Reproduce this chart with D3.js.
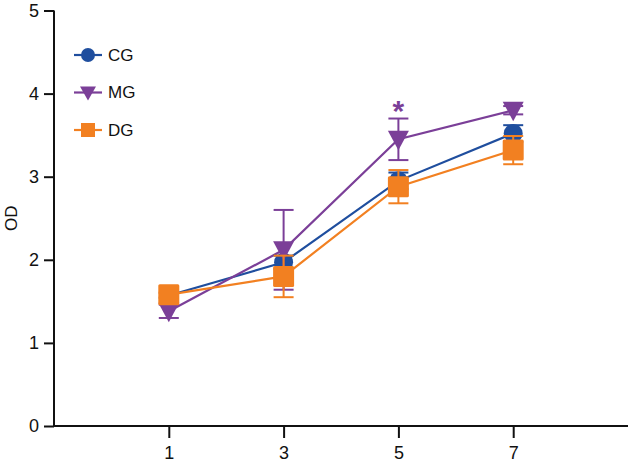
<!DOCTYPE html>
<html><head><meta charset="utf-8">
<script src="https://cdn.jsdelivr.net/npm/d3@7"></script>
<style>body{margin:0;background:#fff}svg{display:block}text{font-family:"Liberation Sans",Arial,sans-serif}</style>
</head><body><svg id="c" width="632" height="464"></svg>
<script>
const days = [1, 3, 5, 7];
const cgMean = [1.57, 1.97, 2.95, 3.52];
const cgErr  = [0.03, 0.08, 0.10, 0.10];
const mgMean = [1.38, 2.12, 3.45, 3.80];
const mgErr  = [0.08, 0.48, 0.25, 0.05];
const dgMean = [1.58, 1.80, 2.88, 3.32];
const dgErr  = [0.03, 0.25, 0.20, 0.17];
const yTicks = [0, 1, 2, 3, 4, 5];
const xTicks = [1, 3, 5, 7];
const seriesNames = ["CG", "MG", "DG"];
const sigLabel = {day: 5, text: "*"};

const series = [
  {name: seriesNames[0], mean: cgMean, err: cgErr, color: "#1f4e9e", shape: "circle"},
  {name: seriesNames[1], mean: mgMean, err: mgErr, color: "#7b3f98", shape: "tri"},
  {name: seriesNames[2], mean: dgMean, err: dgErr, color: "#f28021", shape: "square"}
];

const svg = d3.select("#c");
const x = d3.scaleLinear().domain([-1, 9]).range([54, 628]);
const y = d3.scaleLinear().domain([0, 5]).range([426, 10.5]);

function marker(g, shape, color, cx, cy) {
  if (shape === "circle") g.append("circle").attr("cx", cx).attr("cy", cy).attr("r", 9.5).attr("fill", color);
  else if (shape === "tri") g.append("path").attr("d", `M${cx-10.5},${cy-8.5}L${cx+10.5},${cy-8.5}L${cx},${cy+11}Z`).attr("fill", color);
  else g.append("rect").attr("x", cx-10.5).attr("y", cy-10.5).attr("width", 21).attr("height", 21).attr("rx", 1.5).attr("fill", color);
}

// axes
const yAxis = svg.append("g").attr("transform", `translate(${x(-1)},0)`)
  .call(d3.axisLeft(y).tickValues(yTicks).tickSize(10).tickPadding(5).tickFormat(d3.format("d")));
const xAxis = svg.append("g").attr("transform", `translate(0,${y(0)})`)
  .call(d3.axisBottom(x).tickValues(xTicks).tickSize(12).tickPadding(8).tickFormat(d3.format("d")));
[yAxis, xAxis].forEach(a => {
  a.select(".domain").attr("stroke", "#111").attr("stroke-width", 2);
  a.selectAll(".tick line").attr("stroke", "#111").attr("stroke-width", 2);
  a.selectAll(".tick text").attr("font-size", 18).attr("fill", "#111");
});
xAxis.select(".domain").attr("d", `M${x(-1)},0H${x(9)}`);
yAxis.select(".domain").attr("d", `M0,${y(5)}V${y(0)}`);

svg.append("text").attr("transform", `translate(17,${y(2.5)}) rotate(-90)`)
  .attr("text-anchor", "middle").attr("font-size", 17).attr("fill", "#111").text("OD");

// lines
const line = d3.line().x(d => x(d[0])).y(d => y(d[1]));
series.forEach(s => {
  svg.append("path").datum(days.map((d, i) => [d, s.mean[i]]))
    .attr("d", line).attr("fill", "none").attr("stroke", s.color).attr("stroke-width", 2.2);
});
// error bars + markers
series.forEach(s => {
  const g = svg.append("g");
  days.forEach((d, i) => {
    const cx = x(d), lo = y(s.mean[i] - s.err[i]), hi = y(s.mean[i] + s.err[i]);
    g.append("line").attr("x1", cx).attr("x2", cx).attr("y1", lo).attr("y2", hi).attr("stroke", s.color).attr("stroke-width", 2);
    [lo, hi].forEach(v => g.append("line").attr("x1", cx-10).attr("x2", cx+10).attr("y1", v).attr("y2", v).attr("stroke", s.color).attr("stroke-width", 2));
  });
  days.forEach((d, i) => marker(g, s.shape, s.color, x(d), y(s.mean[i])));
});

// significance
const mi = days.indexOf(sigLabel.day);
svg.append("text").attr("x", x(sigLabel.day)).attr("y", y(mgMean[mi] + mgErr[mi]))
  .attr("dy", 2).attr("text-anchor", "middle").attr("font-size", 30).attr("font-weight", "bold").attr("fill", "#7b3f98").text(sigLabel.text);

// legend
series.forEach((s, i) => {
  const ly = 55 + i * 37.5;
  const g = svg.append("g");
  g.append("line").attr("x1", 74).attr("x2", 102).attr("y1", ly).attr("y2", ly).attr("stroke", s.color).attr("stroke-width", 2.2);
  if (s.shape === "circle") g.append("circle").attr("cx", 88).attr("cy", ly).attr("r", 7).attr("fill", s.color);
  else if (s.shape === "tri") g.append("path").attr("d", `M${80},${ly-6}L${96},${ly-6}L${88},${ly+8}Z`).attr("fill", s.color);
  else g.append("rect").attr("x", 81).attr("y", ly-7).attr("width", 14).attr("height", 14).attr("fill", s.color);
  g.append("text").attr("x", 108).attr("y", ly).attr("dy", "0.35em").attr("font-size", 17).attr("fill", "#111").text(s.name);
});
</script></body></html>
